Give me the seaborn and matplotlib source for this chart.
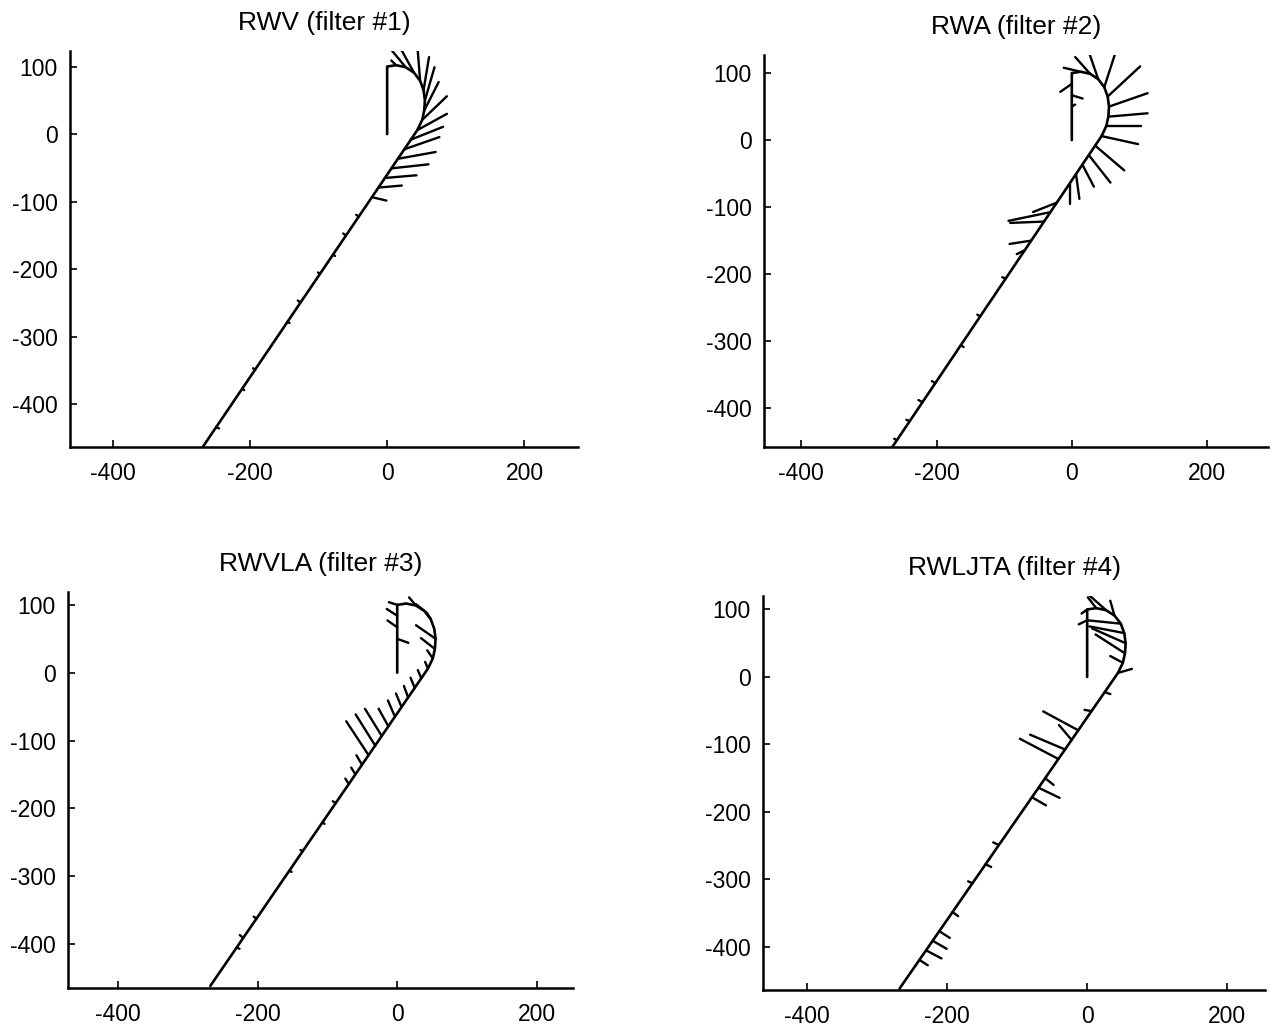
import numpy as np
import pandas as pd
import matplotlib
matplotlib.use("Agg")
import matplotlib.pyplot as plt
import seaborn as sns

sns.set_theme(style="white")
plt.rcParams["font.family"] = ["Liberation Sans", "DejaVu Sans"]
plt.rcParams["axes.unicode_minus"] = False

# ---- true target track, one sample per scan ----
track_x = [0, 0, 0, 0, 0, 0, 0,
           13, 27, 39, 48, 53, 55, 54, 51, 44,
           34.5, 25.1, 15.6, 6.2, -3.3, -12.7, -22.2, -31.6, -41.1, -50.5,
           -60.0, -69.4, -78.9, -88.3, -97.8, -107.3, -116.7, -126.2, -135.6, -145.1,
           -154.5, -164.0, -173.4, -182.9, -192.3, -201.8, -211.2, -220.7, -230.1, -239.6,
           -249.0, -258.5, -268.0]
track_y = [0, 17, 33, 50, 67, 84, 100,
           102, 99, 91, 79, 65, 50, 35, 21, 6,
           -8.2, -22.4, -36.5, -50.7, -64.9, -79.1, -93.3, -107.5, -121.6, -135.8,
           -150.0, -164.2, -178.3, -192.5, -206.7, -220.9, -235.1, -249.2, -263.4, -277.6,
           -291.8, -305.9, -320.1, -334.3, -348.5, -362.7, -376.8, -391.0, -405.2, -419.4,
           -433.5, -447.7, -462.0]

# ---- position error of each filter at selected scans (scan index, dx, dy) ----
rwv_idx = [7, 8, 9, 10, 11, 12, 13, 14, 15, 16, 17, 18, 19, 20, 21, 22, 24, 26, 28, 30, 33, 35, 40, 42, 46]
rwv_dx = [-7, -22, -19, -4, 8, 14, 21, 36, 43, 47, 51, 55, 54, 46, 34, 21, -4, -4, 3, -3, -4, 3, -3, 3, 4]
rwv_dy = [7, 27, 35, 52, 49, 49, 42, 35, 24, 19, 18, 10, 6, 4, 3, -5, 2, 3, -2, 2, 3, -2, 2, -2, -2]

rwa_idx = [3, 4, 5, 7, 8, 9, 10, 11, 12, 13, 14, 15, 16, 17, 18, 19, 20, 22, 23, 24, 26, 27,
           30, 34, 37, 41, 43, 45, 47]
rwa_dx = [5, 16, -17, -25, -22, -15, 16, 48, 57, 58, 52, 54, 43, 32, 17, 5, 0, -35, -62, -50, -32, -12,
          -5, -4, 4, -5, -6, -5, -4]
rwa_dy = [3, -5, -12, 6, 25, 44, 50, 45, 20, 5, 0, -12, -37, -41, -33, -37, -30, -14, -13, -2, -5, -6,
          2, 3, -3, 3, 3, 2, 2]

rwvla_idx = [3, 4, 5, 6, 8, 9, 10, 12, 13, 14, 15, 16, 17, 18, 19, 20, 21, 22, 23, 24, 25, 26, 27,
             29, 31, 34, 36, 41, 43, 44]
rwvla_dx = [16, -14, -15, -12, -10, -12, -6, -28, -20, -8, -4, -5, -6, -6, -8, -10, -14, -24, -28, -32, -8, -6, -5,
            -4, 3, -3, 3, -4, -5, 4]
rwvla_dy = [-6, 10, 10, 4, 12, 10, 10, 20, 16, 12, 10, 12, 15, 17, 20, 24, 26, 40, 46, 50, 14, 10, 8,
            3, -2, 2, -2, 3, 4, -2]

rwljta_idx = [5, 6, 7, 8, 9, 10, 11, 12, 13, 14, 15, 17, 19, 21, 22, 23, 24, 26, 27, 28,
              33, 35, 37, 40, 42, 43, 44, 45]
rwljta_dx = [-12, -8, -12, -24, -6, -48, -50, -48, -42, -18, 20, 8, -10, -50, -18, -50, -55, 12, 30, 20,
             -8, 8, -6, 8, 15, 20, 22, 12]
rwljta_dy = [-6, -6, 16, 22, 22, 5, 10, 22, 28, 10, 6, -3, 2, 28, 22, 22, 30, -10, -15, -12,
             4, -4, 3, -6, -10, -12, -12, -8]

titles = ["RWV (filter #1)", "RWA (filter #2)", "RWVLA (filter #3)", "RWLJTA (filter #4)"]
errors = [(rwv_idx, rwv_dx, rwv_dy), (rwa_idx, rwa_dx, rwa_dy),
          (rwvla_idx, rwvla_dx, rwvla_dy), (rwljta_idx, rwljta_dx, rwljta_dy)]

# axes boxes in figure pixels (left, top, right, bottom) and data limits
W, H = 1272, 1030
boxes = [(70, 51, 578, 447), (764, 55, 1268, 447), (68, 592, 573, 988), (763, 596, 1265, 990)]
xlims = [(-462, 278), (-455, 290), (-472, 252), (-463, 254)]
ylims = [(-463, 123), (-458, 127), (-465, 119), (-464, 120)]

fig = plt.figure(figsize=(W / 100, H / 100), dpi=100)
track = pd.DataFrame({"x": track_x, "y": track_y, "scan": range(len(track_x))})

for k in range(4):
    l, t, r, b = boxes[k]
    ax = fig.add_axes([l / W, 1 - b / H, (r - l) / W, (b - t) / H])
    idx, dx, dy = errors[k]
    rows = []
    for n, (i, ex, ey) in enumerate(zip(idx, dx, dy)):
        rows.append({"seg": n, "x": track_x[i], "y": track_y[i], "end": 0})
        rows.append({"seg": n, "x": track_x[i] + ex, "y": track_y[i] + ey, "end": 1})
    segs = pd.DataFrame(rows)
    sns.lineplot(data=track, x="x", y="y", sort=False, estimator=None,
                 color="black", lw=1.9, ax=ax)
    sns.lineplot(data=segs, x="x", y="y", units="seg", sort=False, estimator=None,
                 color="black", lw=1.7, ax=ax)
    ax.set_xlim(*xlims[k])
    ax.set_ylim(*ylims[k])
    ax.set_xticks([-400, -200, 0, 200])
    ax.set_yticks([-400, -300, -200, -100, 0, 100])
    ax.set_xlabel("")
    ax.set_ylabel("")
    ax.set_title(titles[k], fontsize=19, pad=15, color="black")
    for s in ("top", "right"):
        ax.spines[s].set_visible(False)
    for s in ("left", "bottom"):
        ax.spines[s].set_color("black")
        ax.spines[s].set_linewidth(1.8)
    ax.tick_params(direction="in", length=5, width=1.2, labelsize=16.5, colors="black",
                   left=True, bottom=True)
    ax.tick_params(axis="x", pad=11)
    ax.tick_params(axis="y", pad=9)

fig.savefig("out.png", dpi=100)
